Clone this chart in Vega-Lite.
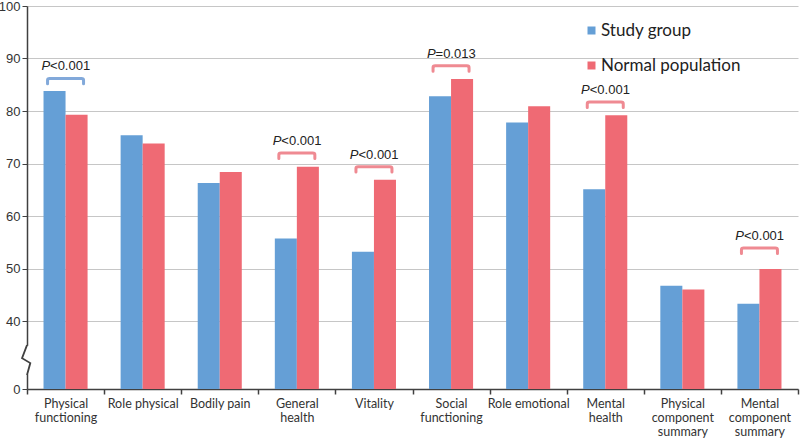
{
  "$schema": "https://vega.github.io/schema/vega-lite/v6.json",
  "width": 771,
  "height": 383,
  "autosize": {"type": "none"},
  "padding": {"left": 27, "top": 6, "right": 2, "bottom": 50},
  "background": "white",
  "config": {"view": {"stroke": null}, "font": "Liberation Sans"},
  "datasets": {
    "scores": [
      {"measure": "Physical functioning", "group": "Study group", "score": 83.8},
      {"measure": "Physical functioning", "group": "Normal population", "score": 79.3},
      {"measure": "Role physical", "group": "Study group", "score": 75.4},
      {"measure": "Role physical", "group": "Normal population", "score": 73.8},
      {"measure": "Bodily pain", "group": "Study group", "score": 66.3},
      {"measure": "Bodily pain", "group": "Normal population", "score": 68.4},
      {"measure": "General health", "group": "Study group", "score": 55.7},
      {"measure": "General health", "group": "Normal population", "score": 69.4},
      {"measure": "Vitality", "group": "Study group", "score": 53.2},
      {"measure": "Vitality", "group": "Normal population", "score": 66.9},
      {"measure": "Social functioning", "group": "Study group", "score": 82.8},
      {"measure": "Social functioning", "group": "Normal population", "score": 86.1},
      {"measure": "Role emotional", "group": "Study group", "score": 77.8},
      {"measure": "Role emotional", "group": "Normal population", "score": 80.9},
      {"measure": "Mental health", "group": "Study group", "score": 65.1},
      {"measure": "Mental health", "group": "Normal population", "score": 79.2},
      {"measure": "Physical component summary", "group": "Study group", "score": 46.7},
      {"measure": "Physical component summary", "group": "Normal population", "score": 46.0},
      {"measure": "Mental component summary", "group": "Study group", "score": 43.3},
      {"measure": "Mental component summary", "group": "Normal population", "score": 49.9}
    ],
    "tests": [
      {"measure": "Physical functioning", "p": "<0.001", "higher": "Study group", "pos": 86.2},
      {"measure": "General health", "p": "<0.001", "higher": "Normal population", "pos": 72.0},
      {"measure": "Vitality", "p": "<0.001", "higher": "Normal population", "pos": 69.4},
      {"measure": "Social functioning", "p": "=0.013", "higher": "Normal population", "pos": 88.6},
      {"measure": "Mental health", "p": "<0.001", "higher": "Normal population", "pos": 81.7},
      {"measure": "Mental component summary", "p": "<0.001", "higher": "Normal population", "pos": 53.9}
    ]
  },
  "layer": [
    {
      "data": {"name": "scores"},
      "mark": {"type": "bar"},
      "encoding": {
        "x": {
          "field": "measure",
          "type": "nominal",
          "scale": {
            "domain": ["Physical functioning", "Role physical", "Bodily pain", "General health", "Vitality", "Social functioning", "Role emotional", "Mental health", "Physical component summary", "Mental component summary"],
            "paddingInner": 0,
            "paddingOuter": 0
          },
          "axis": {
            "title": null,
            "labelAngle": 0,
            "tickBand": "extent",
            "tickSize": 5,
            "tickColor": "#404040",
            "tickWidth": 1.5,
            "domainColor": "#404040",
            "domainWidth": 1.5,
            "labelFont": "Lato",
            "labelFontSize": 12.5,
            "labelColor": "#333333",
            "labelLineHeight": 14,
            "labelPadding": 3,
            "labelBaseline": "top",
            "labelLimit": 0,
            "labelOverlap": false,
            "labelExpr": "!isValid(datum.value) ? '' : indexof(['Role physical','Bodily pain','Role emotional','Vitality'], datum.value) >= 0 ? datum.value : split(datum.value, ' ')",
            "grid": false
          }
        },
        "xOffset": {
          "field": "group",
          "type": "nominal",
          "scale": {"domain": ["Study group", "Normal population"], "paddingInner": 0, "paddingOuter": 0.75}
        },
        "y": {
          "field": "score",
          "type": "quantitative",
          "scale": {"domain": [0, 40, 100], "range": [383, 315, 0], "zero": false, "nice": false},
          "axis": {
            "title": null,
            "values": [0, 40, 50, 60, 70, 80, 90, 100],
            "grid": true,
            "gridColor": "#c6c6c6",
            "gridWidth": 1,
            "domainColor": "#404040",
            "domainWidth": 1.5,
            "tickColor": "#404040",
            "tickSize": 5,
            "labelFont": "Liberation Sans",
            "labelFontSize": 13,
            "labelColor": "#333333",
            "labelPadding": 2
          }
        },
        "color": {
          "field": "group",
          "type": "nominal",
          "scale": {"domain": ["Study group", "Normal population"], "range": ["#659fd6", "#ef6a74"]},
          "legend": {
            "title": null,
            "orient": "none",
            "direction": "vertical",
            "legendX": 556,
            "legendY": 16,
            "symbolType": "square",
            "symbolSize": 64,
            "symbolStrokeWidth": 0,
            "labelFont": "Lato",
            "labelFontSize": 17,
            "labelColor": "#222222",
            "rowPadding": 17,
            "labelOffset": 1,
            "padding": 0
          }
        }
      }
    },
    {
      "data": {"name": "tests"},
      "mark": {
        "type": "point",
        "shape": "M-1,0.3 L-1,0.1 Q-1,0 -0.88,0 L0.88,0 Q1,0 1,0.1 L1,0.3",
        "size": 1296,
        "filled": false,
        "strokeWidth": 3,
        "strokeCap": "round",
        "strokeJoin": "round",
        "opacity": 1
      },
      "encoding": {
        "x": {"field": "measure", "type": "nominal"},
        "y": {"field": "pos", "type": "quantitative"},
        "stroke": {"condition": {"test": "datum.higher === 'Study group'", "value": "#82a9da"}, "value": "#ef8a92"}
      }
    },
    {
      "data": {"name": "tests"},
      "mark": {"type": "text", "align": "right", "baseline": "alphabetic", "dx": -15.5, "dy": -8, "fontStyle": "italic", "fontSize": 13, "font": "Liberation Sans", "color": "#222222"},
      "encoding": {
        "x": {"field": "measure", "type": "nominal"},
        "y": {"field": "pos", "type": "quantitative"},
        "text": {"value": "P"}
      }
    },
    {
      "data": {"name": "tests"},
      "mark": {"type": "text", "align": "left", "baseline": "alphabetic", "dx": -15.5, "dy": -8, "fontSize": 13, "font": "Liberation Sans", "color": "#222222"},
      "encoding": {
        "x": {"field": "measure", "type": "nominal"},
        "y": {"field": "pos", "type": "quantitative"},
        "text": {"field": "p"}
      }
    },
    {
      "data": {"values": [{}]},
      "mark": {"type": "point", "shape": "M-0.15,-0.95 L0.15,-0.95 L0.15,0.95 L-0.15,0.95 Z", "size": 900, "filled": true, "fill": "white", "strokeWidth": 0, "opacity": 1},
      "encoding": {
        "x": {"datum": "Physical functioning", "type": "nominal", "bandPosition": 0},
        "y": {"datum": 17, "type": "quantitative"}
      }
    },
    {
      "data": {"values": [{}]},
      "mark": {"type": "point", "shape": "M0,-1 L-0.33,-0.13 L0.22,0.2 L0,1", "size": 900, "filled": false, "stroke": "#404040", "strokeWidth": 1.8, "opacity": 1},
      "encoding": {
        "x": {"datum": "Physical functioning", "type": "nominal", "bandPosition": 0},
        "y": {"datum": 17, "type": "quantitative"}
      }
    }
  ]
}
